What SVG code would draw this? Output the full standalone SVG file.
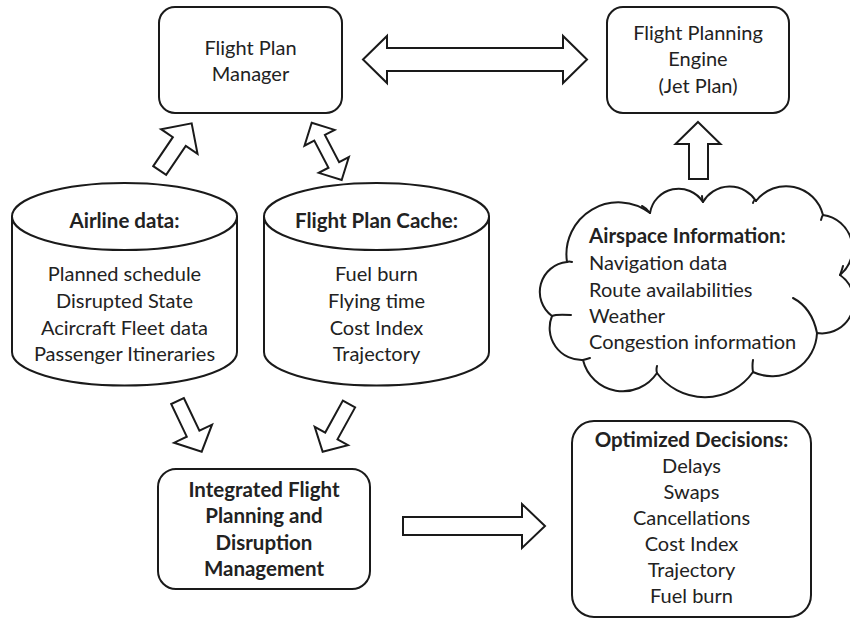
<svg xmlns="http://www.w3.org/2000/svg" width="850" height="618" viewBox="0 0 850 618">
<style>
.s{fill:#fff;stroke:#1a1a1a;stroke-width:2;stroke-linejoin:round}
.n{fill:none;stroke:#1a1a1a;stroke-width:2;stroke-linecap:round}
.a{fill:#fff;stroke:#1a1a1a;stroke-width:2;stroke-linejoin:miter}
text{font-family:Lato,"Open Sans",sans-serif;font-size:20px;fill:#222}
.c{text-anchor:middle}
.b{font-weight:bold;font-size:20.5px}
</style>
<rect width="850" height="618" fill="#fff"/>
<g id="flight-plan-manager">
<rect class="s" x="159" y="7" width="183" height="106" rx="16"/>
<text class="c" x="250.5" y="55">Flight Plan</text>
<text class="c" x="250.5" y="81">Manager</text>
</g>
<g id="flight-planning-engine">
<rect class="s" x="607" y="7" width="182" height="106" rx="16"/>
<text class="c" x="698" y="40">Flight Planning</text>
<text class="c" x="698" y="66">Engine</text>
<text class="c" x="698" y="93">(Jet Plan)</text>
</g>
<g id="airline-data">
<path class="s" d="M12,216.5 A112.5,33.5 0 0 1 237,216.5 L237,352 A112.5,33.5 0 0 1 12,352 Z"/>
<path class="n" d="M12,216.5 A112.5,33.5 0 0 0 237,216.5"/>
<text class="c b" x="124.5" y="228">Airline data:</text>
<text class="c" x="124.5" y="281">Planned schedule</text>
<text class="c" x="124.5" y="308">Disrupted State</text>
<text class="c" x="124.5" y="335">Acircraft Fleet data</text>
<text class="c" x="124.5" y="361">Passenger Itineraries</text>
</g>
<g id="flight-plan-cache">
<path class="s" d="M264,216.5 A112.5,33.5 0 0 1 489,216.5 L489,352 A112.5,33.5 0 0 1 264,352 Z"/>
<path class="n" d="M264,216.5 A112.5,33.5 0 0 0 489,216.5"/>
<text class="c b" x="376.5" y="228">Flight Plan Cache:</text>
<text class="c" x="376.5" y="281">Fuel burn</text>
<text class="c" x="376.5" y="308">Flying time</text>
<text class="c" x="376.5" y="335">Cost Index</text>
<text class="c" x="376.5" y="361">Trajectory</text>
</g>
<g id="airspace-information">
<path class="s" d="M567,262 A52,52 0 0 1 650,213 A29,29 0 0 1 703,202 A31,31 0 0 1 756,201 A38,38 0 0 1 823,215 A34,34 0 0 1 840,275 A32,32 0 0 1 817,333 A45,45 0 0 1 753,372 A59,59 0 0 1 657,373 A41,41 0 0 1 583,360 A32,32 0 0 1 552,316 A30,30 0 0 1 567,262 Z"/>
<path class="n" d="M567,262 Q569,261 572,262 M650,213 Q646,208 642,206 M703,202 Q702,198 702,196 M756,201 Q754,199 753,203 M823,215 Q822,216 821,220 M840,275 Q842,270 843,266 M793,298 Q812,308 817,333 M753,372 Q752,366 753,360 M657,373 Q656,370 657,366 M583,360 Q587,359 590,358 M552,316 Q556,314 571,315"/>
<text class="b" x="589" y="243">Airspace Information:</text>
<text x="589" y="270">Navigation data</text>
<text x="589" y="297">Route availabilities</text>
<text x="589" y="323">Weather</text>
<text x="589" y="349">Congestion information</text>
</g>
<g id="integrated-flight-planning">
<rect class="s" x="158" y="469" width="212" height="120" rx="18"/>
<text class="c b" x="264" y="497">Integrated Flight</text>
<text class="c b" x="264" y="523">Planning and</text>
<text class="c b" x="264" y="550">Disruption</text>
<text class="c b" x="264" y="576">Management</text>
</g>
<g id="optimized-decisions">
<rect class="s" x="572" y="421" width="239" height="196" rx="22"/>
<text class="c b" x="691.5" y="447">Optimized Decisions:</text>
<text class="c" x="691.5" y="473">Delays</text>
<text class="c" x="691.5" y="499">Swaps</text>
<text class="c" x="691.5" y="525">Cancellations</text>
<text class="c" x="691.5" y="551">Cost Index</text>
<text class="c" x="691.5" y="577">Trajectory</text>
<text class="c" x="691.5" y="603">Fuel burn</text>
</g>
<g id="connectors">
<polygon class="a" points="363,59.5 387,36 387,48 563,48 563,36 587,59.5 563,83 563,71 387,71 387,83"/>
<polygon class="a" points="698,122 720.5,144 708,144 708,179 689,179 689,144 675.5,144"/>
<polygon class="a" transform="translate(159.7,170.5) rotate(-55.9)" points="0,-7.8 35,-7.8 35,-22 57,0 35,22 35,7.8 0,7.8"/>
<polygon class="a" transform="translate(311.7,122.7) rotate(62.4)" points="0,0 17,-17 17,-6 47.7,-6 47.7,-17 64.7,0 47.7,17 47.7,6 17,6 17,17"/>
<polygon class="a" transform="translate(177.5,401) rotate(64.5)" points="0,-7 36.2,-7 36.2,-21 56.2,0 36.2,21 36.2,7 0,7"/>
<polygon class="a" transform="translate(349,404) rotate(118.9)" points="0,-7 36.5,-7 36.5,-19 54.5,0 36.5,19 36.5,7 0,7"/>
<polygon class="a" points="403,517 522,517 522,504 545,526 522,548 522,535 403,535"/>
</g>
</svg>
